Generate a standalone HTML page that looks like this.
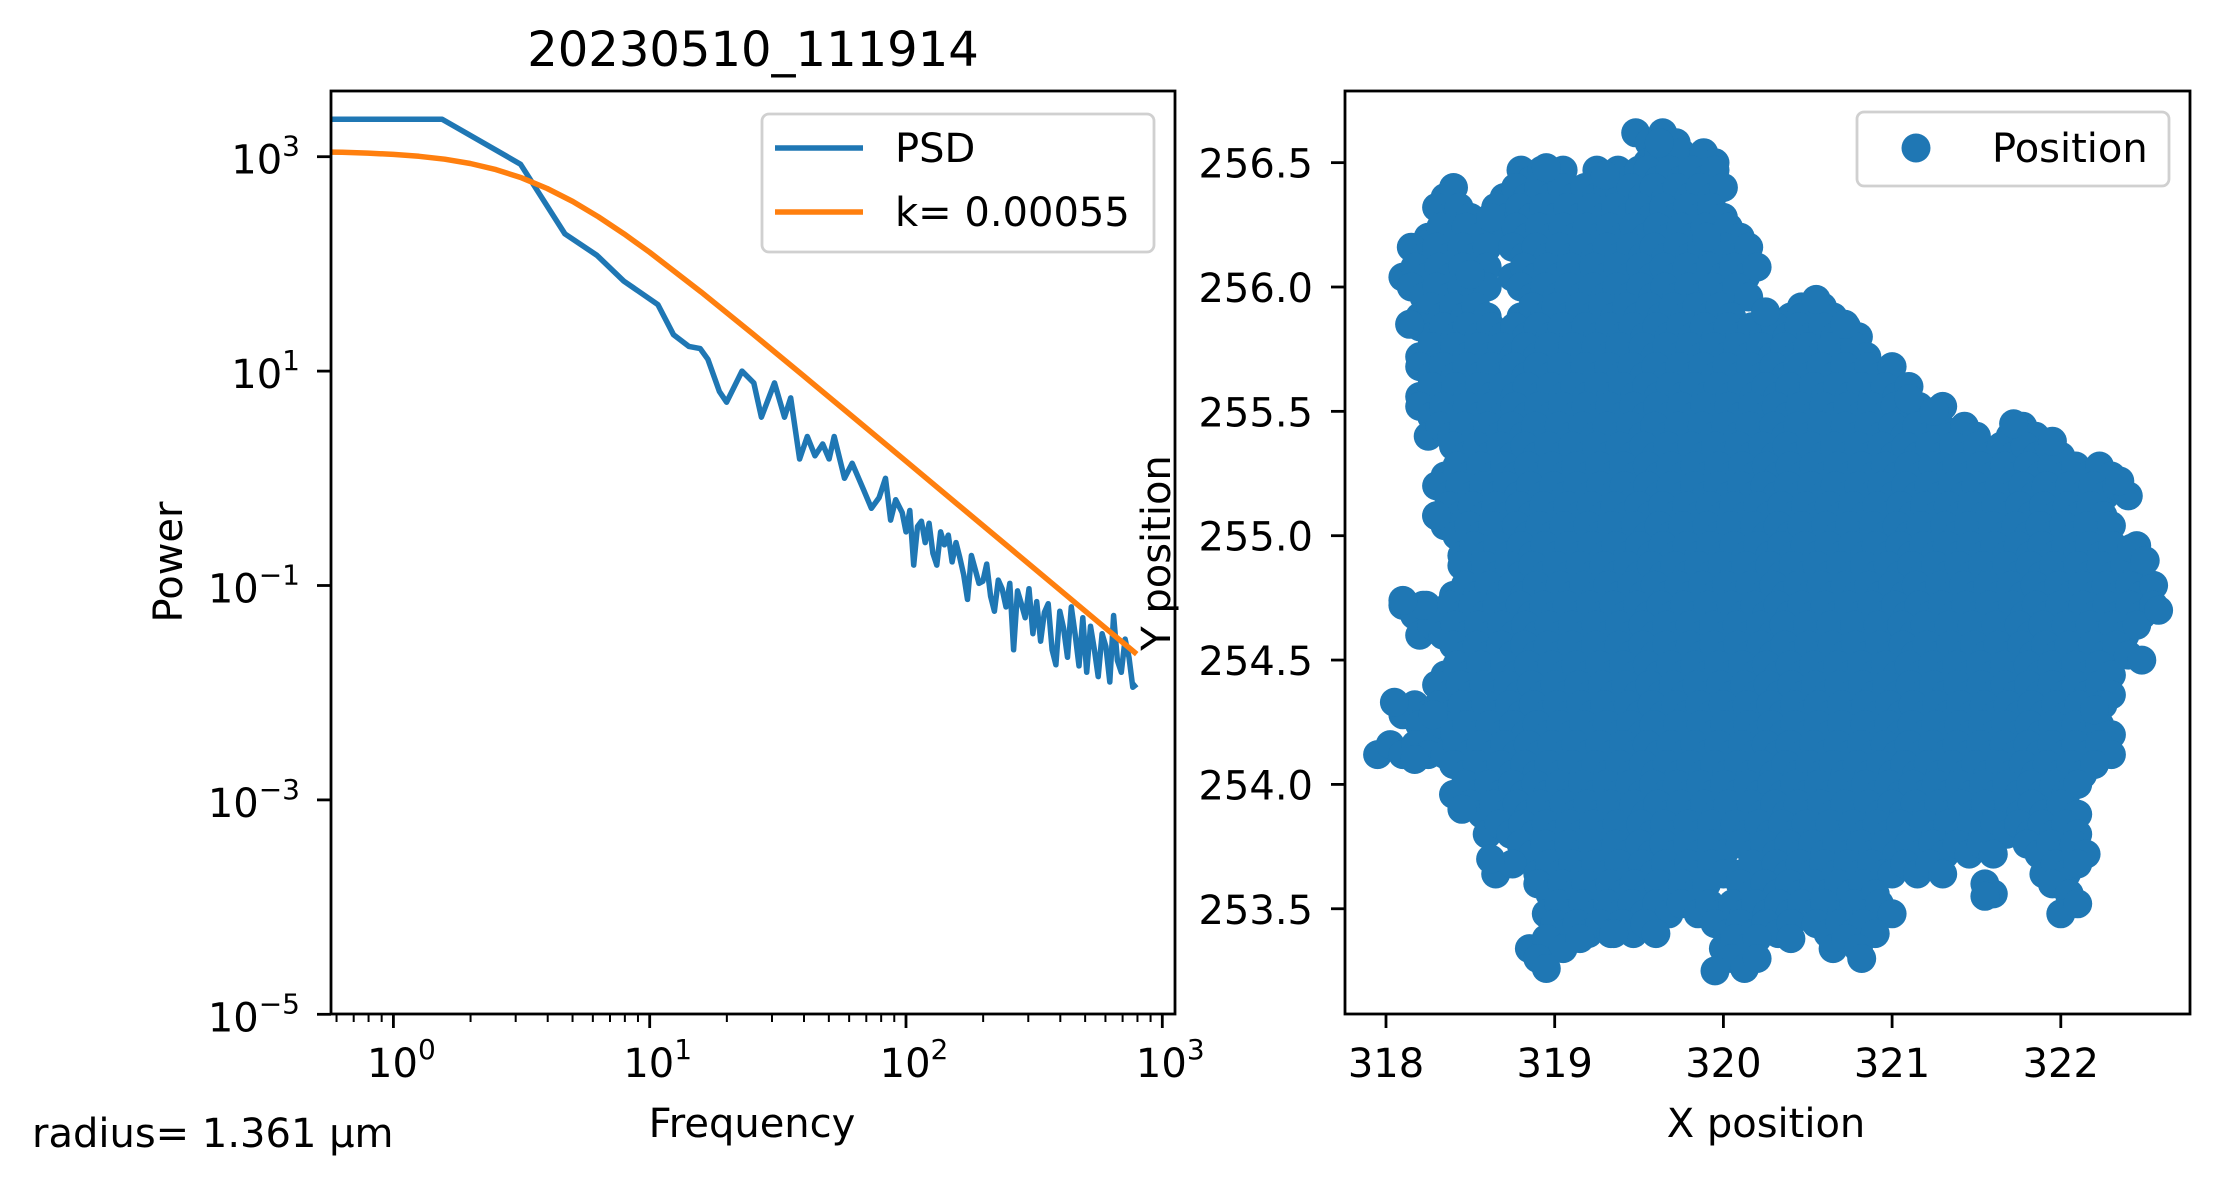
<!DOCTYPE html>
<html><head><meta charset="utf-8"><style>
html,body{margin:0;padding:0;background:#fff;}
svg{display:block;font-family:"DejaVu Sans","Liberation Sans",sans-serif;}
</style></head><body>
<svg id="fig" width="2220" height="1186" viewBox="0 0 2220 1186">
<defs>
<clipPath id="clipL"><rect x="331" y="91" width="844" height="923"/></clipPath>
<clipPath id="clipR"><rect x="1345" y="91" width="845" height="923"/></clipPath>
</defs>
<g id="left"></g>
<g id="right"></g>
</svg>
<script>
// PSD series (log10 values)
const psdLogFreq = [-0.35,0.19,0.496,0.669,0.794,0.899,1.032,1.093,1.153,1.197,1.227,1.272,1.30,1.36,1.406,1.436,1.487,1.526,1.55,1.585,1.615,1.645,1.675,1.70,1.72,1.76,1.79,1.835,1.865,1.895,1.92,1.94,1.96,1.985,2.0,2.015,2.03,2.045,2.06,2.075,2.09,2.105,2.12,2.135,2.15,2.165,2.18,2.195,2.21,2.225,2.24,2.255,2.27,2.285,2.30,2.315,2.33,2.345,2.36,2.375,2.39,2.405,2.42,2.435,2.45,2.465,2.48,2.495,2.51,2.525,2.54,2.555,2.57,2.585,2.60,2.615,2.63,2.645,2.66,2.675,2.69,2.705,2.72,2.735,2.75,2.765,2.78,2.795,2.81,2.825,2.84,2.855,2.87,2.885,2.90];
const psdLogPower = [3.35,3.35,2.93,2.28,2.08,1.84,1.62,1.34,1.23,1.21,1.11,0.81,0.71,1.0,0.89,0.57,0.89,0.57,0.75,0.18,0.39,0.21,0.32,0.18,0.39,0.0,0.14,-0.11,-0.28,-0.18,0.0,-0.39,-0.2,-0.32,-0.5,-0.3,-0.81,-0.45,-0.4,-0.6,-0.42,-0.7,-0.81,-0.5,-0.62,-0.53,-0.78,-0.6,-0.74,-0.9,-1.13,-0.72,-0.85,-0.98,-0.96,-0.8,-1.1,-1.24,-0.95,-1.03,-1.2,-0.98,-1.6,-1.05,-1.17,-1.3,-1.03,-1.45,-1.15,-1.52,-1.25,-1.17,-1.6,-1.74,-1.24,-1.4,-1.67,-1.2,-1.46,-1.75,-1.3,-1.81,-1.38,-1.6,-1.85,-1.45,-1.57,-1.9,-1.28,-1.7,-1.81,-1.5,-1.67,-1.95,-1.92];
// Lorentzian fit parameters
const fitA = 14454;
const fitFc = 3.57;
const fitLogFreq = [-0.35,-0.2,-0.1,0,0.1,0.2,0.3,0.4,0.5,0.6,0.7,0.8,0.9,1.0,1.2,1.4,1.6,1.8,2.0,2.2,2.4,2.6,2.8,2.9];
const yTickExp = [3,1,-1,-3,-5];
const xTickExp = [0,1,2,3];
// Position data: rows [y, x0, x1, x0, x1, ...]
const posRows = [
[256.60,319.48,319.72],[256.52,319.55,319.95],
[256.45,318.8,319.05,319.25,319.5,319.55,319.95],
[256.38,318.35,318.4,318.7,320.0],[256.30,318.3,318.5,318.65,320.0],
[256.22,318.25,318.55,318.7,320.1],[256.14,318.15,318.6,318.75,320.15],
[256.06,318.1,318.6,318.75,320.2],[255.98,318.15,318.6,318.8,320.15],
[255.90,318.2,318.6,318.8,320.05,320.4,320.65],[255.82,318.2,320.8],[255.74,318.2,320.85],
[255.66,318.2,321.0],[255.58,318.2,321.1],[255.50,318.2,321.3],[255.42,318.25,321.5,321.7,321.85],
[255.34,318.4,322.0],[255.26,318.35,322.3],[255.18,318.3,322.4],[255.10,318.3,322.25],
[255.02,318.35,322.3],[254.94,318.45,322.45],[254.86,318.45,322.45],[254.78,318.4,322.55],
[254.70,318.1,322.55],[254.62,318.2,322.45],[254.54,318.4,322.4],[254.46,318.35,322.3],
[254.38,318.3,322.3],[254.30,318.1,322.25],[254.22,318.2,322.3],[254.14,317.95,318.25,318.35,322.3],
[254.06,318.4,322.2],[253.98,318.4,322.1],[253.90,318.5,321.9,322.0,322.1],[253.82,318.6,322.1],
[253.74,318.8,320.0,320.1,321.6,321.8,322.15],
[253.66,318.65,318.75,318.9,320.0,320.1,320.95,321.0,321.3,321.9,322.1],
[253.58,318.9,319.9,320.1,320.9,321.55,321.6,321.95,322.05],
[253.50,318.95,319.75,319.85,320.6,320.7,321.0,322.0,322.1],
[253.42,319.0,319.6,319.95,320.4,320.55,320.9],
[253.36,318.85,318.95,319.05,319.15,320.0,320.2,320.65,320.8],
[253.28,318.9,318.95,320.05,320.2]
];
// ragged edge points [x, y]
const posEdgeX = [318.05,318.17,318.28,318.22,318.1,318.3,318.14,318.5,318.62,318.95,319.3,319.62,319.9,320.25,320.55,320.72,321.1,321.25,321.72,321.95,322.35,322.42,322.5,322.58,322.48,322.2,321.55,320.82,320.4,319.95,319.35,318.62,318.45];
const posEdgeY = [254.33,254.1,254.28,254.72,254.74,255.08,255.85,256.05,256.28,256.48,256.45,256.58,256.2,255.9,255.95,255.85,255.55,255.5,255.45,255.38,255.22,254.95,254.9,254.7,254.5,254.3,253.55,253.3,253.38,253.25,253.4,253.7,253.9];
const xTicksR = [318,319,320,321,322];
const yTicksR = [253.5,254.0,254.5,255.0,255.5,256.0,256.5];

const NS='http://www.w3.org/2000/svg';
function mk(parent,tag,attrs,text){const e=document.createElementNS(NS,tag);for(const k in attrs)e.setAttribute(k,attrs[k]);if(text!==undefined)e.textContent=text;parent.appendChild(e);return e;}
const xL = lf => 393.4 + 256.3*lf;
const yL = lp => 156.7 + 107.2*(3-lp);
const xR = v => 1386 + 168.7*(v-318);
const yR = v => 535.7 - 248.7*(v-255);
const blue='#1f77b4', orange='#ff7f0e';

// ----- Left panel -----
const L=document.getElementById('left');
let t=mk(L,'text',{x:753,y:66,'font-size':48,'text-anchor':'middle'},'20230510_111914');


const clipGL=mk(L,'g',{'clip-path':'url(#clipL)'});
let d=psdLogFreq.map((f,i)=>(i?'L':'M')+xL(f).toFixed(1)+','+yL(psdLogPower[i]).toFixed(1)).join('');
let p=mk(clipGL,'path',{d:d,fill:'none',stroke:blue,'stroke-width':5.5,'stroke-linejoin':'round'});


d=fitLogFreq.map((lf,i)=>{const f=Math.pow(10,lf);const P=fitA/(fitFc*fitFc+f*f);return (i?'L':'M')+xL(lf).toFixed(1)+','+yL(Math.log10(P)).toFixed(1);}).join('');
p=mk(clipGL,'path',{d:d,fill:'none',stroke:orange,'stroke-width':5.5,'stroke-linejoin':'round'});


let r=mk(L,'rect',{x:331,y:91,width:844,height:923,fill:'none',stroke:'#000','stroke-width':2.8});


yTickExp.forEach(e=>{const y=yL(e);
 mk(L,'line',{x1:317,x2:331,y1:y,y2:y,stroke:'#000','stroke-width':2.8});
 const tx=mk(L,'text',{x:300,y:y+17,'font-size':40,'text-anchor':'end'});
 
 
 mk(tx,'tspan',{},'10');mk(tx,'tspan',{dy:-18,'font-size':28},e<0?'\u2212'+(-e):String(e));
});
xTickExp.forEach(e=>{const x=xL(e);
 mk(L,'line',{x1:x,x2:x,y1:1014,y2:1028,stroke:'#000','stroke-width':2.8});
 const tx=mk(L,'text',{x:x+8,y:1077,'font-size':40,'text-anchor':'middle'});
 
 
 mk(tx,'tspan',{},'10');mk(tx,'tspan',{dy:-18,'font-size':28},String(e));
});
for(let dec=-1;dec<3;dec++)for(let m=2;m<10;m++){const lf=dec+Math.log10(m);const x=xL(lf);if(x<331||x>1175)continue;
 mk(L,'line',{x1:x,x2:x,y1:1014,y2:1022,stroke:'#000','stroke-width':2});}
t=mk(L,'text',{x:752,y:1137,'font-size':40,'text-anchor':'middle'},'Frequency');


t=mk(L,'text',{x:0,y:0,'font-size':40,'text-anchor':'middle',transform:'translate(182,562) rotate(-90)'},'Power');


t=mk(L,'text',{x:32,y:1147,'font-size':40},'radius= 1.361 \u03bcm');


// legend
const lg=mk(L,'g',{});


mk(lg,'rect',{x:762,y:114,width:392,height:138,rx:7,fill:'#fff','fill-opacity':0.8,stroke:'#d0d0d0','stroke-width':2.8});
mk(lg,'line',{x1:775,x2:863,y1:148,y2:148,stroke:blue,'stroke-width':5.5});
mk(lg,'line',{x1:775,x2:863,y1:212,y2:212,stroke:orange,'stroke-width':5.5});
t=mk(lg,'text',{x:895,y:162,'font-size':40},'PSD');


t=mk(lg,'text',{x:895,y:226,'font-size':40},'k= 0.00055');



// ----- Right panel -----
const R=document.getElementById('right');
const clipGR=mk(R,'g',{'clip-path':'url(#clipR)',fill:blue});
posRows.forEach((row,ri)=>{const y=row[0];
 for(let s=1;s<row.length;s+=2){const x0=row[s],x1=row[s+1];
  const n=Math.max(1,Math.round((x1-x0)/0.07));
  for(let k=0;k<=n;k++){const x=x0+(x1-x0)*k/n;
   const c=mk(clipGR,'circle',{cx:xR(x).toFixed(1),cy:(yR(y)+((k+ri)%2?5:-5)).toFixed(1),r:14.5});
   
   
  }}
});
posEdgeX.forEach((x,i)=>{
 const c=mk(clipGR,'circle',{cx:xR(x).toFixed(1),cy:yR(posEdgeY[i]).toFixed(1),r:14.5});
 
 
});
r=mk(R,'rect',{x:1345,y:91,width:845,height:923,fill:'none',stroke:'#000','stroke-width':2.8});


xTicksR.forEach(v=>{const x=xR(v);
 mk(R,'line',{x1:x,x2:x,y1:1014,y2:1028,stroke:'#000','stroke-width':2.8});
 const tx=mk(R,'text',{x:x,y:1077,'font-size':40,'text-anchor':'middle'},String(v));
 
 
});
yTicksR.forEach(v=>{const y=yR(v);
 mk(R,'line',{x1:1331,x2:1345,y1:y,y2:y,stroke:'#000','stroke-width':2.8});
 const tx=mk(R,'text',{x:1313,y:y+15,'font-size':40,'text-anchor':'end'},v.toFixed(1));
 
 
});
t=mk(R,'text',{x:1766,y:1137,'font-size':40,'text-anchor':'middle'},'X position');


t=mk(R,'text',{x:0,y:0,'font-size':40,'text-anchor':'middle',transform:'translate(1170,553) rotate(-90)'},'Y position');


const lg2=mk(R,'g',{});


mk(lg2,'rect',{x:1857,y:112,width:312,height:74,rx:7,fill:'#fff','fill-opacity':0.8,stroke:'#d0d0d0','stroke-width':2.8});
mk(lg2,'circle',{cx:1916,cy:148,r:14.5,fill:blue});
t=mk(lg2,'text',{x:1992,y:162,'font-size':40},'Position');


</script>
</body></html>
